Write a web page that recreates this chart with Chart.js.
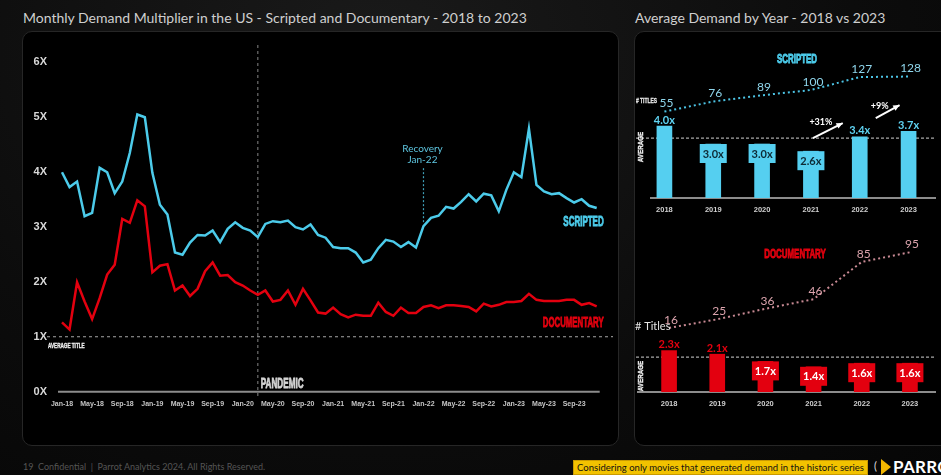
<!DOCTYPE html>
<html>
<head>
<meta charset="utf-8">
<script src="https://cdn.jsdelivr.net/npm/chart.js@4.4.1/dist/chart.umd.min.js"></script>
<style>
  body { margin:0; width:941px; height:475px; overflow:hidden; position:relative;
         background: radial-gradient(ellipse at 40% 10%, #1a1a1a 0%, #0c0c0c 60%, #060606 100%);
         font-family: Lato, "Noto Sans", sans-serif; }
  .title { position:absolute; top:9px; color:#cfcfcf; font-size:14px; white-space:nowrap; }
  .panel { position:absolute; background:#000; border:1px solid #262626; border-radius:10px; }
  canvas { position:absolute; }
  .foot { position:absolute; left:23px; top:461px; color:#555; font-size:9px; white-space:nowrap; }
  .note { position:absolute; left:573px; top:460px; width:293px; height:13px; background:#f2c200;
          border:1px solid #c99a00; color:#111; font-size:9.5px; line-height:13px; text-align:center; white-space:nowrap; }
  .logo { position:absolute; left:893px; top:456px; color:#fff; font-size:17px; font-weight:bold; letter-spacing:0.3px; white-space:nowrap; }
  .mark { position:absolute; left:881px; top:459px; width:0; height:0; border-top:8px solid transparent; border-bottom:8px solid transparent; border-left:10px solid #f2b600; }
  .paren { position:absolute; left:874px; top:459px; color:#ddd; font-size:11px; }
</style>
</head>
<body>
<div class="title" style="left:23px">Monthly Demand Multiplier in the US - Scripted and Documentary - 2018 to 2023</div>
<div class="title" style="left:635px">Average Demand by Year - 2018 vs 2023</div>
<div class="panel" style="left:22px; top:31px; width:595px; height:413px"></div>
<div class="panel" style="left:634px; top:31px; width:330px; height:413px"></div>
<canvas id="monthly" width="595" height="413" style="left:23px; top:32px"></canvas>
<canvas id="scriptedYears" width="307" height="195" style="left:634px; top:30px"></canvas>
<canvas id="documentaryYears" width="307" height="220" style="left:634px; top:225px"></canvas>
<div class="foot">19&nbsp; Confidential &nbsp;|&nbsp; Parrot Analytics 2024. All Rights Reserved.</div>
<div class="note">Considering only movies that generated demand in the historic series</div>
<div class="paren">(</div>
<div class="mark"></div>
<div class="logo">PARROT</div>
<script>
const BOLD = '"Liberation Sans", Arial, sans-serif';
const SANS = 'Lato, "Noto Sans", sans-serif';

// monthly series
const monthNames = ["Jan","Feb","Mar","Apr","May","Jun","Jul","Aug","Sep","Oct","Nov","Dec"];
const yearSuffixes = ["18","19","20","21","22","23"];
const monthLabels = yearSuffixes.flatMap(y => monthNames.map(m => m + "-" + y));
const yTickLabels = ["0X","1X","2X","3X","4X","5X","6X"];

const scriptedMonthly = [
  3.99,3.72,3.82,3.19,3.25,4.07,3.99,3.61,3.82,4.34,5.04,4.99,
  3.98,3.40,3.22,2.53,2.49,2.71,2.85,2.84,2.93,2.72,2.96,3.08,
  2.98,2.93,2.81,3.05,3.10,3.08,3.11,2.99,2.95,3.04,2.85,2.80,
  2.63,2.61,2.61,2.53,2.35,2.40,2.61,2.76,2.73,2.63,2.72,2.62,
  3.01,3.16,3.20,3.36,3.33,3.45,3.59,3.46,3.60,3.57,3.28,3.67,
  3.99,3.90,4.78,3.76,3.64,3.59,3.61,3.52,3.44,3.50,3.38,3.34
];
const documentaryMonthly = [
  1.26,1.13,1.99,1.64,1.32,1.70,2.13,2.31,3.14,3.07,3.48,3.37,
  2.17,2.29,2.32,1.84,1.93,1.74,1.87,2.19,2.35,2.11,2.12,1.99,
  1.93,1.84,1.76,1.84,1.64,1.67,1.84,1.58,1.87,1.66,1.44,1.42,
  1.53,1.41,1.35,1.40,1.38,1.38,1.62,1.45,1.38,1.53,1.43,1.43,
  1.54,1.57,1.52,1.57,1.57,1.56,1.54,1.46,1.60,1.55,1.58,1.63,
  1.63,1.65,1.78,1.67,1.65,1.65,1.65,1.67,1.67,1.58,1.61,1.55
];
const pandemicIndex = 26;   // Mar-20
const recoveryIndex = 48;   // Jan-22

// yearly series
const years = ["2018","2019","2020","2021","2022","2023"];
const scriptedAvg = [4.0, 3.0, 3.0, 2.6, 3.4, 3.7];
const scriptedTitles = [55, 76, 89, 100, 127, 128];
const documentaryAvg = [2.3, 2.1, 1.7, 1.4, 1.6, 1.6];
const documentaryTitles = [16, 25, 36, 46, 85, 95];
const scriptedOverall = 3.33;
const documentaryOverall = 1.94;
const growthLabels = ["+31%", "+9%"];

function seg(ctx, x1, y1, x2, y2) {
  ctx.beginPath(); ctx.moveTo(x1, y1); ctx.lineTo(x2, y2); ctx.stroke();
}

// squeezed bold caps, stands in for the condensed display face
function narrow(ctx, txt, x, y, size, sx, align, heavy) {
  ctx.save();
  ctx.translate(x, y);
  ctx.scale(sx, 1);
  ctx.font = "bold " + size + "px " + BOLD;
  ctx.textAlign = align || "left";
  ctx.textBaseline = "middle";
  ctx.fillText(txt, 0, 0);
  if (heavy) {
    ctx.strokeStyle = ctx.fillStyle;
    ctx.lineWidth = heavy;
    ctx.strokeText(txt, 0, 0);
  }
  ctx.restore();
}

function arrow(ctx, x1, y1, x2, y2) {
  seg(ctx, x1, y1, x2, y2);
  const a = Math.atan2(y2 - y1, x2 - x1);
  ctx.beginPath();
  ctx.moveTo(x2, y2);
  ctx.lineTo(x2 - 7 * Math.cos(a - 0.45), y2 - 7 * Math.sin(a - 0.45));
  ctx.lineTo(x2 - 7 * Math.cos(a + 0.45), y2 - 7 * Math.sin(a + 0.45));
  ctx.closePath(); ctx.fill();
}

const monthlyNotes = {
  id: "monthlyNotes",
  beforeDatasetsDraw(chart) {
    const { ctx, chartArea: a, scales: { x, y } } = chart;
    const y0 = y.getPixelForValue(0), y1 = y.getPixelForValue(1);
    ctx.save();
    ctx.setLineDash([3, 3]);
    ctx.lineWidth = 1.2;
    ctx.strokeStyle = "#8a8a8a";
    seg(ctx, a.left - 15, y1, chart.width - 5, y1);
    const xp = x.getPixelForValue(pandemicIndex);
    ctx.strokeStyle = "#6f6f6f";
    seg(ctx, xp, 13, xp, y0 + 6);
    const xr = x.getPixelForValue(recoveryIndex);
    const yr = y.getPixelForValue(scriptedMonthly[recoveryIndex]);
    ctx.strokeStyle = "#3f9fb8";
    ctx.setLineDash([2, 2]);
    seg(ctx, xr, yr - 58, xr, yr - 4);
    ctx.setLineDash([]);
    ctx.strokeStyle = "#8c8c8c"; ctx.lineWidth = 2;
    seg(ctx, a.left - 4, y0, a.right + 3, y0);

    ctx.fillStyle = "#eeeeee";
    narrow(ctx, "AVERAGE TITLE", a.left - 14, y1 + 9, 7, 0.66, "left", 0.4);
    ctx.fillStyle = "#d4d4d4";
    narrow(ctx, "PANDEMIC", xp + 3, y0 - 8, 14, 0.58, "left", 0.8);

    ctx.fillStyle = "#5ec6e0";
    ctx.font = "10px " + SANS;
    ctx.textAlign = "center"; ctx.textBaseline = "middle";
    ctx.fillText("Recovery", xr - 1, yr - 77);
    ctx.fillText("Jan-22", xr - 1, yr - 66);

    ctx.fillStyle = "#4ccbea";
    narrow(ctx, "SCRIPTED", a.right + 7, y.getPixelForValue(scriptedMonthly[71]) + 14, 14, 0.57, "right", 0.9);
    ctx.fillStyle = "#e3000f";
    narrow(ctx, "DOCUMENTARY", a.right + 7, y.getPixelForValue(documentaryMonthly[71]) + 17, 14, 0.56, "right", 0.9);
    ctx.restore();
  }
};

new Chart(document.getElementById("monthly"), {
  type: "line",
  data: {
    labels: monthLabels,
    datasets: [
      { label: "Scripted", data: scriptedMonthly, borderColor: "#4ccbea", borderWidth: 2.5, pointRadius: 0, tension: 0 },
      { label: "Documentary", data: documentaryMonthly, borderColor: "#e3000f", borderWidth: 2.5, pointRadius: 0, tension: 0 }
    ]
  },
  options: {
    responsive: false,
    animation: false,
    layout: { padding: { left: 0, top: 29.7, right: 21.3, bottom: 0 } },
    plugins: { legend: { display: false }, tooltip: { enabled: false } },
    scales: {
      x: {
        grid: { display: false, drawTicks: false },
        border: { display: false },
        ticks: {
          autoSkip: false, maxRotation: 0, minRotation: 0, padding: 8,
          color: "#c4c4c4", font: { family: BOLD, size: 7, weight: "bold" },
          callback: (v, i) => (i % 4 === 0 ? monthLabels[i] : "")
        },
        afterFit: s => { s.height = 53.3; }
      },
      y: {
        min: 0, max: 6,
        grid: { display: false, drawTicks: false },
        border: { display: false },
        ticks: {
          stepSize: 1, padding: 15, color: "#d8d8d8",
          font: { family: BOLD, size: 11, weight: "bold" },
          callback: v => yTickLabels[v]
        },
        afterFit: s => { s.width = 39; }
      }
    }
  },
  plugins: [monthlyNotes]
});

function yearNotes(cfg) {
  return {
    id: "yearNotes",
    beforeDatasetsDraw(chart) {
      const { ctx, scales: { y } } = chart;
      const ya = y.getPixelForValue(cfg.overall);
      const yb = y.getPixelForValue(0);
      ctx.save();
      ctx.strokeStyle = "#a8a8a8"; ctx.lineWidth = 1.2; ctx.setLineDash([3, 2]);
      seg(ctx, 2, ya, 302, ya);
      ctx.setLineDash([]);
      ctx.strokeStyle = "#8c8c8c"; ctx.lineWidth = 2;
      seg(ctx, cfg.baseFrom, yb, 302, yb);
      ctx.restore();
    },
    afterDatasetsDraw(chart) {
      const { ctx, scales: { x, y } } = chart;
      const bars = chart.getDatasetMeta(1).data;
      const pts = chart.getDatasetMeta(0).data;
      ctx.save();
      ctx.textAlign = "center"; ctx.textBaseline = "middle";
      ctx.font = "bold 11px " + SANS;
      bars.forEach((b, i) => {
        const v = cfg.bars[i];
        const txt = v.toFixed(1) + "x";
        if (v < cfg.overall) {
          ctx.fillStyle = cfg.color;
          ctx.fillRect(b.x - 13.5, b.y, 27, 19);
          ctx.fillStyle = cfg.boxText;
          ctx.fillText(txt, b.x, b.y + 10);
        } else {
          ctx.fillStyle = cfg.aboveText;
          ctx.fillText(txt, b.x, b.y - 6);
        }
      });
      ctx.font = "12px " + SANS;
      ctx.fillStyle = cfg.titleText;
      pts.forEach((p, i) => ctx.fillText(String(cfg.titles[i]), p.x + 2, p.y - 8));

      ctx.fillStyle = cfg.headerColor;
      narrow(ctx, cfg.header, cfg.headerX, 29, 13, 0.61, "center", 0.9);

      ctx.save();
      ctx.translate(7, cfg.avgLabelY);
      ctx.rotate(-Math.PI / 2);
      ctx.fillStyle = "#f0f0f0";
      narrow(ctx, "AVERAGE", 0, 0, 8, 0.78, "center", 0.4);
      ctx.restore();

      ctx.fillStyle = "#e6e6e6";
      if (cfg.titlesNarrow) {
        narrow(ctx, cfg.titlesLabel, cfg.titlesLabelX, cfg.titlesLabelY, 7, 0.7, "left", 0.3);
      } else {
        ctx.textAlign = "left";
        ctx.font = "11px " + SANS;
        ctx.fillText(cfg.titlesLabel, cfg.titlesLabelX, cfg.titlesLabelY);
      }

      if (cfg.arrows) {
        const ya = y.getPixelForValue(cfg.overall);
        const x3 = x.getPixelForValue(3), x4 = x.getPixelForValue(4), x5 = x.getPixelForValue(5);
        ctx.strokeStyle = "#ffffff"; ctx.fillStyle = "#ffffff"; ctx.lineWidth = 2;
        arrow(ctx, x3 + 2, ya, x4 - 17, ya - 15);
        arrow(ctx, x4 + 16, ya - 20, x5 - 9, ya - 33);
        ctx.font = "bold 9px " + SANS;
        ctx.textAlign = "center";
        ctx.fillText(growthLabels[0], x3 + 10, ya - 16);
        ctx.fillText(growthLabels[1], x4 + 20, ya - 32);
      }
      ctx.restore();
    }
  };
}

function yearChart(id, cfg) {
  return new Chart(document.getElementById(id), {
    type: "bar",
    data: {
      labels: years,
      datasets: [
        { type: "line", data: cfg.titles, yAxisID: "y2", borderColor: cfg.lineColor, borderWidth: 2,
          borderDash: [2, 3], pointRadius: 0, tension: 0, order: 0 },
        { type: "bar", data: cfg.bars, yAxisID: "y", backgroundColor: cfg.color, barThickness: 15, order: 1 }
      ]
    },
    options: {
      responsive: false,
      animation: false,
      layout: { padding: cfg.padding },
      plugins: { legend: { display: false }, tooltip: { enabled: false } },
      scales: {
        x: {
          offset: true,
          grid: { display: false, drawTicks: false },
          border: { display: false },
          ticks: { padding: 7, color: "#cfcfcf", font: { family: BOLD, size: 7.5, weight: "bold" } },
          afterFit: s => { s.height = cfg.axisHeight; }
        },
        y: { display: false, min: 0, max: 8 },
        y2: { display: false, min: cfg.titleMin, max: cfg.titleMax }
      }
    },
    plugins: [yearNotes(cfg)]
  });
}

yearChart("scriptedYears", {
  bars: scriptedAvg, titles: scriptedTitles, overall: scriptedOverall,
  color: "#55cff0", lineColor: "#4cc3e4", boxText: "#0d2a35", aboveText: "#5fd3f2", titleText: "#8fd6ec",
  header: "SCRIPTED", headerColor: "#4ccbea", headerX: 163,
  padding: { left: 6, right: 8, top: 24, bottom: 0 }, axisHeight: 27,
  titleMin: -125, titleMax: 175, baseFrom: 16, avgLabelY: 117,
  titlesLabel: "# TITLES", titlesNarrow: true, titlesLabelX: 2, titlesLabelY: 71,
  arrows: true
});

yearChart("documentaryYears", {
  bars: documentaryAvg, titles: documentaryTitles, overall: documentaryOverall,
  color: "#e3000f", lineColor: "#c98a94", boxText: "#ffffff", aboveText: "#e3000f", titleText: "#dca4ad",
  header: "DOCUMENTARY", headerColor: "#e3000f", headerX: 161,
  padding: { left: 11, right: 7, top: 23, bottom: 0 }, axisHeight: 53,
  titleMin: -51, titleMax: 99.5, baseFrom: 3, avgLabelY: 151,
  titlesLabel: "# Titles", titlesNarrow: false, titlesLabelX: 1, titlesLabelY: 101,
  arrows: false
});
</script>
</body>
</html>
